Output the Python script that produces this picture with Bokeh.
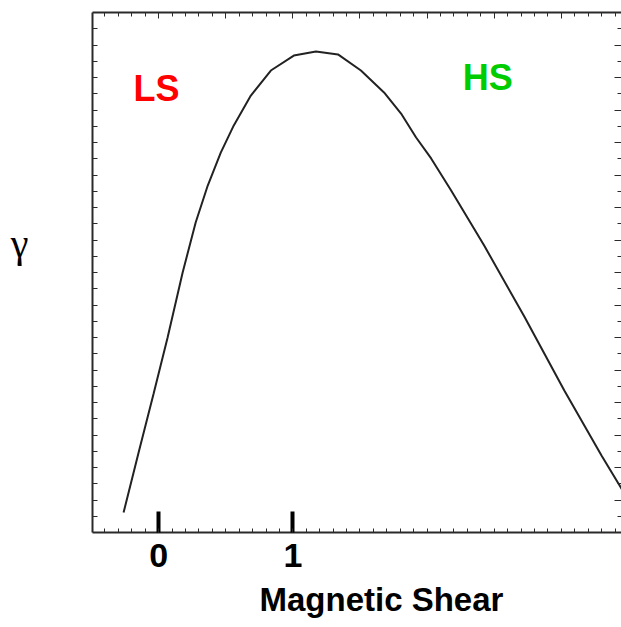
from bokeh.plotting import figure
from bokeh.models import LinearAxis, FixedTicker, Range1d, Label, Title
from bokeh.embed import file_html
from bokeh.resources import INLINE
import numpy as np

# Growth rate versus magnetic shear
shear = [-0.261, -0.149, -0.037, 0.067, 0.179, 0.276, 0.366, 0.463, 0.560,
         0.687, 0.836, 1.007, 1.172, 1.336, 1.507, 1.679, 1.806, 1.918,
         2.030, 2.179, 2.425, 2.724, 3.022, 3.299, 3.425, 3.522]
gamma = [1.23, 4.92, 8.55, 12.00, 16.00, 19.08, 21.35, 23.38, 25.05,
         26.89, 28.43, 29.35, 29.60, 29.42, 28.43, 27.08, 25.78, 24.31,
         23.02, 21.05, 17.66, 13.29, 8.74, 4.74, 3.02, 1.66]

# Labelled shear values on the horizontal axis
shear_ticks = [0, 1]

# Regime annotations: low shear / high shear
regime_text = ["LS", "HS"]
regime_x = [-0.015, 2.451]
regime_y = [27.32, 28.0]
regime_color = ["#FF0000", "#00CC00"]

# vertical position of the gamma symbol on the left side
gamma_label_y = 17.8

FONT = "Liberation Sans"
FRAME = "#2a2a2a"

p = figure(width=621, height=627, output_backend="svg", toolbar_location=None,
           x_range=Range1d(-0.4925, 3.448), y_range=Range1d(0, 32),
           min_border_left=92, min_border_right=0, min_border_top=12,
           min_border_bottom=95)
p.grid.visible = False
p.background_fill_color = "white"
p.border_fill_color = "white"
# the box is drawn by the axis lines; the right edge runs off the page
p.outline_line_color = None

tenths = [round(v, 1) for v in np.arange(-0.4, 3.45, 0.1)]
halves = [round(v, 1) for v in np.arange(0.0, 3.45, 0.5)]
units = list(range(1, 32))
evens = list(range(2, 32, 2))


def style_frame_axis(ax):
    ax.axis_line_color = FRAME
    ax.axis_line_width = 2
    ax.major_tick_line_color = FRAME
    ax.minor_tick_line_color = FRAME
    ax.major_tick_out = 0
    ax.minor_tick_out = 0
    ax.minor_tick_in = 4
    ax.major_label_standoff = 0
    ax.axis_label = None


def hide_labels(ax):
    ax.major_label_text_font_size = "1px"
    ax.major_label_text_color = None


# bottom axis: thick labelled ticks at 0 and 1, fine ticks every 0.1
xb = p.xaxis[0]
xb.ticker = FixedTicker(ticks=shear_ticks, minor_ticks=tenths)
style_frame_axis(xb)
xb.major_tick_in = 21
xb.major_tick_line_width = 4
xb.major_tick_line_color = "black"
xb.major_label_text_font = FONT
xb.major_label_text_font_style = "bold"
xb.major_label_text_font_size = "34px"
xb.major_label_text_color = "black"
xb.major_label_standoff = 11

# top axis: fine inward ticks
xt = LinearAxis(ticker=FixedTicker(ticks=halves, minor_ticks=tenths))
style_frame_axis(xt)
xt.major_tick_in = 6
hide_labels(xt)
p.add_layout(xt, "above")

# left axis: inward ticks, carries the gamma symbol
yl = p.yaxis[0]
yl.ticker = FixedTicker(ticks=[gamma_label_y], minor_ticks=units)
style_frame_axis(yl)
yl.major_tick_in = 0
yl.minor_tick_in = 5
yl.major_label_overrides = {gamma_label_y: "γ"}
yl.major_label_text_font = "Liberation Serif"
yl.major_label_text_font_size = "40px"
yl.major_label_text_color = "black"
yl.major_label_standoff = 64

# right axis: inward ticks only
yr = LinearAxis(ticker=FixedTicker(ticks=evens, minor_ticks=units))
style_frame_axis(yr)
yr.axis_line_color = None
yr.major_tick_in = 7
hide_labels(yr)
p.add_layout(yr, "right")

p.line(shear, gamma, line_color="#222222", line_width=2)

for t, x, y, c in zip(regime_text, regime_x, regime_y, regime_color):
    p.add_layout(Label(x=x, y=y, text=t, text_font=FONT, text_font_style="bold",
                       text_font_size="36px", text_color=c, text_align="center",
                       text_baseline="alphabetic"))

p.add_layout(Title(text="Magnetic Shear", align="left", offset=167,
                   text_font=FONT, text_font_style="bold", text_font_size="33px",
                   text_color="black", standoff=18), "below")

open("out.html", "w").write(file_html(p, INLINE))
